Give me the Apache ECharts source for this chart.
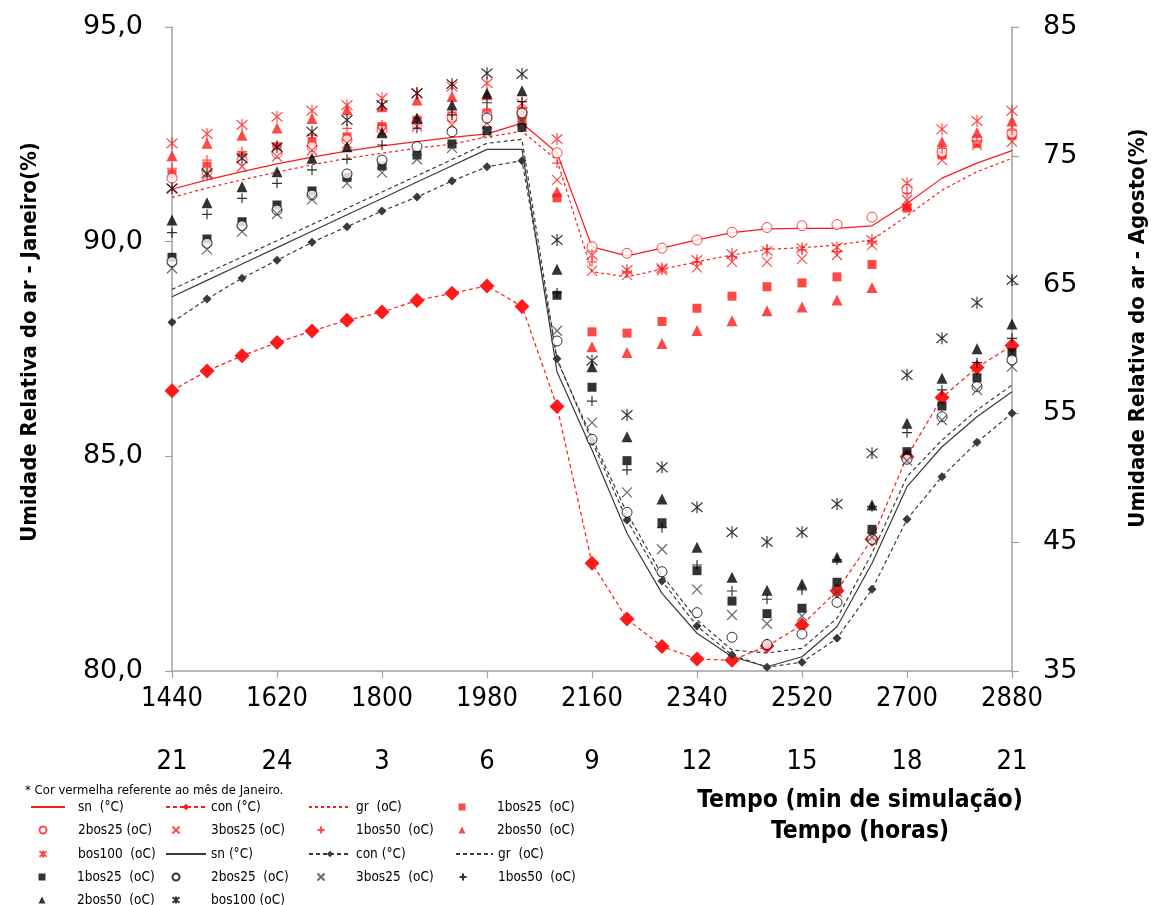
<!DOCTYPE html>
<html>
<head>
<meta charset="utf-8">
<script src="https://cdn.jsdelivr.net/npm/echarts@6/dist/echarts.min.js"></script>
<style>
html,body{margin:0;padding:0;background:#fff;}
#chart{width:1157px;height:905px;}
</style>
</head>
<body>
<div id="chart"></div>
<script>
// ---------- DATA ----------
const minutes = [1440,1500,1560,1620,1680,1740,1800,1860,1920,1980,2040,2100,2160,2220,2280,2340,2400,2460,2520,2580,2640,2700,2760,2820,2880];
const xTicks = [1440,1620,1800,1980,2160,2340,2520,2700,2880];
const hourTicks = ['21','24','3','6','9','12','15','18','21'];

// January (red, left axis)
const janSn     = [91.22,91.44,91.63,91.81,91.97,92.11,92.23,92.33,92.43,92.51,92.76,92.07,89.88,89.67,89.85,90.04,90.21,90.30,90.31,90.31,90.37,90.89,91.48,91.83,92.12];
const janCon    = [86.53,86.99,87.34,87.65,87.92,88.17,88.36,88.63,88.80,88.97,88.49,86.16,82.51,81.21,80.57,80.28,80.25,80.58,81.07,81.87,83.07,84.99,86.37,87.07,87.58];
const janGr     = [91.03,91.25,91.44,91.62,91.79,91.94,92.06,92.18,92.27,92.44,92.57,91.90,89.30,89.18,89.36,89.53,89.69,89.82,89.86,89.92,90.04,90.60,91.20,91.63,91.94];
const jan1bos25 = [91.58,91.76,91.98,92.21,92.33,92.44,92.68,92.83,92.91,93.00,92.88,91.02,87.90,87.87,88.14,88.45,88.73,88.95,89.04,89.18,89.47,90.78,92.02,92.29,92.48];
const jan2bos25 = [91.48,91.63,91.90,92.06,92.21,92.37,92.60,92.76,92.90,92.95,93.02,92.07,89.88,89.73,89.85,90.04,90.22,90.33,90.37,90.40,90.57,91.22,92.09,92.37,92.53];
const jan3bos25 = [91.23,91.55,91.75,91.98,92.13,92.29,92.56,92.68,92.72,92.76,92.79,91.44,89.32,89.22,89.34,89.40,89.53,89.53,89.60,89.69,89.92,90.97,91.90,92.25,92.33];
const jan1bos50 = [91.71,91.90,92.10,92.25,92.48,92.64,92.72,92.87,93.02,93.02,93.11,91.83,89.53,89.29,89.36,89.53,89.65,89.83,89.81,89.77,90.00,91.13,92.17,92.34,92.60];
const jan2bos50 = [92.00,92.29,92.48,92.65,92.87,93.07,93.14,93.30,93.38,93.42,93.07,91.16,87.55,87.42,87.63,87.93,88.16,88.39,88.48,88.64,88.93,90.85,92.33,92.54,92.81];
const janBos100 = [92.29,92.51,92.72,92.91,93.05,93.18,93.34,93.46,93.61,93.69,93.22,92.39,89.69,89.34,89.38,89.57,89.71,89.79,89.85,89.87,90.04,91.36,92.62,92.81,93.05];

// August (black, right axis)
const augSn     = [64.06,65.33,66.60,67.87,69.14,70.42,71.69,72.96,74.23,75.50,75.50,58.24,52.16,45.69,41.03,37.93,36.11,35.33,36.11,38.44,43.36,49.31,52.41,54.74,56.68];
const augCon    = [62.07,63.88,65.49,66.89,68.28,69.50,70.71,71.80,73.04,74.15,74.62,59.25,52.83,46.72,41.99,38.49,36.24,35.29,35.68,37.54,41.34,46.78,50.09,52.76,55.01];
const augGr     = [64.63,65.89,67.15,68.41,69.67,70.93,72.19,73.45,74.71,75.97,76.28,59.15,53.09,47.27,42.45,38.96,36.63,36.40,36.76,39.09,44.14,50.09,52.93,55.26,57.20];
const aug1bos25 = [67.12,68.54,69.88,71.18,72.27,73.33,74.21,75.06,75.92,76.95,77.21,64.17,57.03,51.33,46.51,42.79,40.43,39.45,39.87,41.89,46.00,52.03,55.57,57.77,59.71];
const aug2bos25 = [66.78,68.21,69.57,70.79,71.96,73.59,74.67,75.71,76.87,77.93,78.32,60.62,52.99,47.32,42.71,39.53,37.62,37.06,37.87,40.33,45.22,51.44,54.74,57.07,59.15];
const aug3bos25 = [66.27,67.74,69.11,70.48,71.62,72.86,73.69,74.73,75.61,76.77,77.78,61.42,54.28,48.87,44.45,41.34,39.35,38.67,39.27,41.13,45.40,51.33,54.49,56.82,58.63];
const aug1bos50 = [69.03,70.46,71.70,72.86,73.90,74.73,75.84,77.14,78.17,79.12,79.20,64.35,55.96,50.61,46.13,43.23,41.21,40.57,41.29,43.62,47.76,53.50,56.82,58.94,60.83];
const aug2bos50 = [70.02,71.36,72.60,73.77,74.81,75.71,76.79,77.91,78.94,79.85,80.05,66.19,58.63,53.19,48.35,44.60,42.28,41.27,41.75,43.83,47.89,54.23,57.72,60.02,61.94];
const augBos100 = [72.48,73.64,74.81,75.66,76.87,77.78,78.94,79.85,80.57,81.41,81.35,68.46,59.09,54.88,50.81,47.71,45.77,45.02,45.77,47.97,51.90,57.98,60.83,63.59,65.36];

// ---------- STYLE ----------
const RED = '#ff1a1a', BLK = '#000000', BLKLINE = '#3a3a3a';
const NARROW = '"DejaVu Sans Condensed","Liberation Sans Narrow",sans-serif';
const WIDE = '"DejaVu Sans",Verdana,sans-serif';
const SYM = {
  x: 'path://M0,0L10,10M10,0L0,10',
  plus: 'path://M5,0L5,10M0,5L10,5',
  ast: 'path://M0,1L10,9M10,1L0,9M5,0L5,10'
};

function lineS(name, data, axis, color, type, symbol, symSize, width) {
  return {
    name, type: 'line', yAxisIndex: axis, z: 2,
    data: minutes.map((m, i) => [m, data[i]]),
    symbol: symbol || 'none', symbolSize: symSize || 0, showSymbol: !!symbol,
    lineStyle: {color, width: width || 1.2, type},
    itemStyle: {color, borderWidth: 0}
  };
}
function scat(name, data, axis, color, kind) {
  const s = {name, type: 'scatter', yAxisIndex: axis, z: 3,
    data: minutes.map((m, i) => [m, data[i]])};
  if (kind === 'rect') { s.symbol = 'rect'; s.symbolSize = 9; s.itemStyle = {color}; }
  else if (kind === 'tri') { s.symbol = 'triangle'; s.symbolSize = 11; s.itemStyle = {color}; }
  else if (kind === 'circ') { s.symbol = 'circle'; s.symbolSize = 10; s.itemStyle = {color: '#fff', borderColor: color, borderWidth: 1}; }
  else { s.symbol = SYM[kind]; s.symbolSize = kind === 'ast' ? [11, 12] : 10; s.itemStyle = {color: 'rgba(0,0,0,0)', borderColor: color, borderWidth: 1.2}; }
  return s;
}

const series = [
  lineS('jan|sn  (°C)', janSn, 0, RED, 'solid'),
  lineS('jan|con (°C)', janCon, 0, RED, [4, 3], 'diamond', 15, 1.2),
  lineS('jan|gr  (oC)', janGr, 0, RED, [3, 3]),
  scat('jan|1bos25  (oC)', jan1bos25, 0, RED, 'rect'),
  scat('jan|2bos25 (oC)', jan2bos25, 0, RED, 'circ'),
  scat('jan|3bos25 (oC)', jan3bos25, 0, RED, 'x'),
  scat('jan|1bos50  (oC)', jan1bos50, 0, RED, 'plus'),
  scat('jan|2bos50  (oC)', jan2bos50, 0, RED, 'tri'),
  scat('jan|bos100  (oC)', janBos100, 0, RED, 'ast'),
  lineS('aug|sn (°C)', augSn, 1, BLKLINE, 'solid'),
  lineS('aug|con (°C)', augCon, 1, BLKLINE, [4, 3], 'diamond', 9, 1.2),
  lineS('aug|gr  (oC)', augGr, 1, BLKLINE, [4, 3]),
  scat('aug|1bos25  (oC)', aug1bos25, 1, BLK, 'rect'),
  scat('aug|2bos25  (oC)', aug2bos25, 1, BLK, 'circ'),
  scat('aug|3bos25  (oC)', aug3bos25, 1, '#444', 'x'),
  scat('aug|1bos50  (oC)', aug1bos50, 1, BLK, 'plus'),
  scat('aug|2bos50  (oC)', aug2bos50, 1, BLK, 'tri'),
  scat('aug|bos100 (oC)', augBos100, 1, BLK, 'ast')
];

// legend layout (4 columns, row-major)
const legendCols = [
  {textX: 77, symX: 42, lineX: 30, lineW: 34},
  {textX: 210, symX: 175, lineX: 165, lineW: 40},
  {textX: 355, symX: 320, lineX: 308, lineW: 42},
  {textX: 497, symX: 462, lineX: 455, lineW: 37}
];
const legendRowY = [808, 831, 855, 878, 901];
const legends = series.map((s, i) => {
  const c = legendCols[i % 4], y = legendRowY[Math.floor(i / 4)];
  const isLine = s.type === 'line';
  const w = isLine ? c.lineW : 7;
  const left = isLine ? c.lineX : c.symX - w / 2;
  const lg = {
    data: [s.name], left, top: y - 8, itemWidth: w, itemHeight: isLine ? 8 : 7,
    padding: 0, itemGap: 0, selectedMode: false,
    formatter: n => n.split('|')[1],
    textStyle: {fontFamily: NARROW, fontSize: 13.5, color: '#000', padding: [0, 0, 0, Math.max(0, c.textX - (left + w + 5))]}
  };
  if (isLine && s.symbol === 'none') lg.itemStyle = {opacity: 0};
  return lg;
});

const axisLine = {show: true, lineStyle: {color: '#a0a0a0', width: 1.5}};
const axisTick = {show: true, length: 7, lineStyle: {color: '#a0a0a0', width: 1.2}};

const option = {
  animation: false,
  backgroundColor: '#fff',
  title: {
    text: '* Cor vermelha referente ao mês de Janeiro.', left: 20, top: 779,
    textStyle: {fontFamily: NARROW, fontSize: 13, fontWeight: 'normal', color: '#000'}
  },
  legend: legends,
  grid: {left: 172, right: 145, top: 27, bottom: 234, containLabel: false},
  xAxis: {
    type: 'value', min: 1440, max: 2880, interval: 180,
    axisLine, axisTick, splitLine: {show: false},
    axisLabel: {
      margin: 8,
      formatter: v => { const k = xTicks.indexOf(v); return '{a|' + v + '}\n{b|' + hourTicks[k] + '}'; },
      rich: {
        a: {fontFamily: NARROW, fontSize: 27, lineHeight: 40, color: '#000'},
        b: {fontFamily: NARROW, fontSize: 27, lineHeight: 86, color: '#000'}
      }
    },
    name: 'Tempo (min de simulação)\nTempo (horas)', nameLocation: 'middle', nameGap: 114,
    nameTextStyle: {fontFamily: NARROW, fontSize: 24.5, fontWeight: 'bold', color: '#000', lineHeight: 31, padding: [0, 0, 0, 536]}
  },
  yAxis: [
    {
      type: 'value', min: 80, max: 95, interval: 5, position: 'left',
      axisLine, axisTick, splitLine: {show: false},
      axisLabel: {margin: 29, fontFamily: WIDE, fontSize: 27, color: '#000', formatter: v => v.toFixed(1).replace('.', ',')},
      name: 'Umidade Relativa do ar - Janeiro(%)', nameLocation: 'middle', nameRotate: 90, nameGap: 131,
      nameTextStyle: {fontFamily: NARROW, fontSize: 22, fontWeight: 'bold', color: '#000', padding: [0, 0, 0, 14]}
    },
    {
      type: 'value', min: 35, max: 85, interval: 10, position: 'right',
      axisLine, axisTick, splitLine: {show: false},
      axisLabel: {margin: 31, fontFamily: WIDE, fontSize: 27, color: '#000', formatter: v => String(v)},
      name: 'Umidade Relativa do ar - Agosto(%)', nameLocation: 'middle', nameRotate: 90, nameGap: 115,
      nameTextStyle: {fontFamily: NARROW, fontSize: 22, fontWeight: 'bold', color: '#000', padding: [0, 0, 0, 42]}
    }
  ],
  series
};

const chart = echarts.init(document.getElementById('chart'), null, {renderer: 'canvas'});
chart.setOption(option);
</script>
</body>
</html>
